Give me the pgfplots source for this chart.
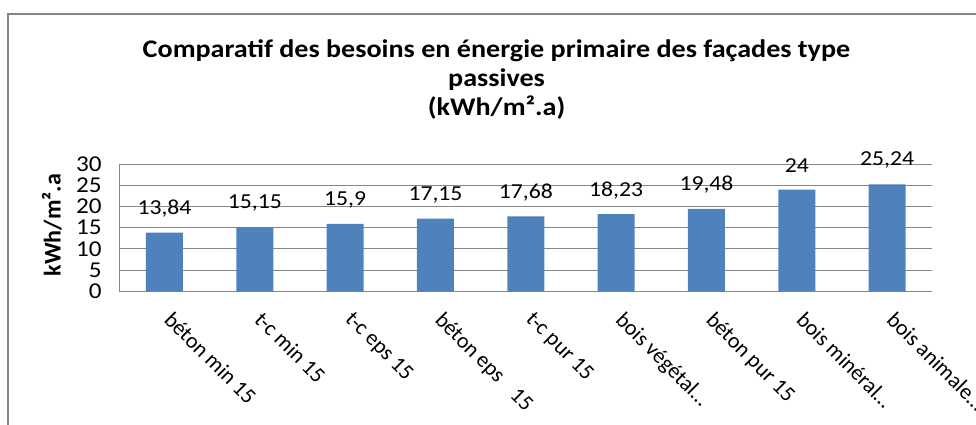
\documentclass[border=0pt]{standalone}
\usepackage{pgfplots}
\pgfplotsset{compat=1.18}
\usepackage{fontspec}
\setmainfont{Carlito}
\newfontfamily\widefont{Carlito}[FakeStretch=1.11]
\definecolor{barblue}{RGB}{79,129,189}
\definecolor{gridgray}{RGB}{134,134,134}
\begin{document}
\begin{tikzpicture}
\useasboundingbox (0,0) rectangle (732pt,318.75pt);
\draw[gridgray, line width=1.4pt] (6.2pt,-20pt) -- (6.2pt,308.25pt) -- (760pt,308.25pt);
\node[anchor=base, font=\widefont\fontsize{19}{22}\selectfont\bfseries] at (372.4pt,275.25pt) {Comparatif des besoins en énergie primaire des façades type};
\node[anchor=base, font=\widefont\fontsize{19}{22}\selectfont\bfseries] at (372.4pt,253.5pt) {passives};
\node[anchor=base, font=\widefont\fontsize{19}{22}\selectfont\bfseries] at (372.4pt,231.75pt) {(kWh/m².a)};
\begin{axis}[
  at={(89.5pt,100.3pt)}, anchor=south west,
  scale only axis, width=609.75pt, height=95.25pt,
  xmin=-0.5, xmax=8.5, ymin=0, ymax=30,
  ytick={0,5,...,30}, xtick={0,1,2,3,4,5,6,7,8},
  xticklabels={{béton min 15}, {t-c min 15}, {t-c eps 15}, {béton eps\hspace{0.8em}15}, {t-c pur 15}, {bois végétal\ldots}, {béton pur 15}, {bois minéral\ldots}, {bois animale\ldots}},
  ymajorgrids, grid style={gridgray, line width=0.8pt},
  axis x line*=bottom, axis y line*=left,
  axis line style={gridgray, line width=0.8pt, -},
  ytick style={gridgray, line width=0.8pt}, major tick length=5pt,
  xtick style={draw=none},
  /pgf/number format/.cd, use comma, assume math mode=true, 1000 sep={},
  /pgfplots/.cd,
  yticklabel style={font=\widefont\fontsize{17}{20}\selectfont, inner sep=1pt, xshift=-12pt},
  xticklabel style={font=\fontsize{16.5}{19}\selectfont, xshift=7pt, yshift=-9pt, rotate=-45, anchor=north west, inner sep=0pt},
  ylabel={kWh/m².a},
  ylabel style={at={(axis description cs:-0.083,0.52)}, anchor=center, rotate=0, font=\fontsize{18}{21}\selectfont\bfseries},
  ybar, bar width=27.75pt,
  nodes near coords,
  every node near coord/.append style={font=\widefont\fontsize{16}{19}\selectfont, anchor=center, inner sep=0pt, yshift=18pt, text=black},
]
\addplot[fill=barblue, draw=none] coordinates {
(0,13.84) (1,15.15) (2,15.9) (3,17.15) (4,17.68) (5,18.23) (6,19.48) (7,24) (8,25.24)};
\end{axis}
\end{tikzpicture}
\end{document}
